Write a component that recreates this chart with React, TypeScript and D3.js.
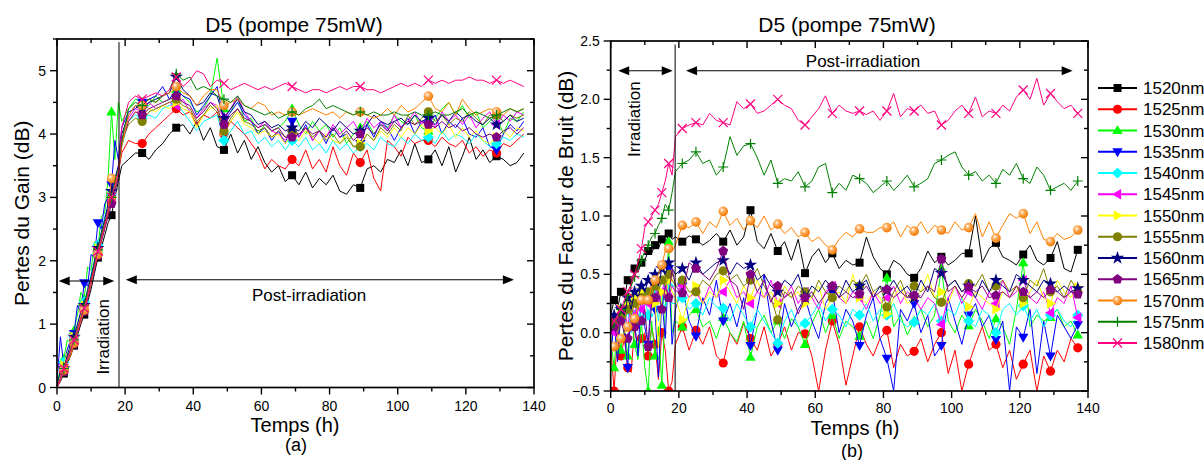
import React from "react";
import * as d3 from "d3";

// ---------- DATA ----------
const TIME = [0,1,2,3,4,5,6,7,8,9,10,11,12,13,14,15,16,17,18,
  19,21,23,25,27,29,31,33,35,37,39,41,43,45,47,49,51,53,55,57,59,61,63,65,67,69,71,73,75,77,
  79,81,83,85,87,89,91,93,95,97,99,101,103,105,107,109,111,113,115,117,119,121,123,125,127,129,131,133,135,137];

const LABELS = ["1520nm","1525nm","1530nm","1535nm","1540nm","1545nm","1550nm","1555nm","1560nm","1565nm","1570nm","1575nm","1580nm"];
const COLORS = ["#000000","#ff0000","#00ff00","#0000ff","#00ffff","#ff00ff","#ffff00","#808000","#000080","#800080","#ff8000","#008000","#ff0080"];
const SHAPES = ["square","circle","triUp","triDown","diamond","triLeft","triRight","circle","star","pentagon","sphere","plus","cross"];

const MARK_T_A = [2,5,8,12,16,25,35,49,69,89,109,129];
const MARK_T_B = [1,3,5,7,9,11,13,15,17,21,25,33,41,49,57,65,73,81,89,97,105,113,121,129,137];

const X_TICKS = [0,20,40,60,80,100,120,140];
const X_MINOR = [10,30,50,70,90,110,130];
const YA_TICKS = [0,1,2,3,4,5];
const YA_MINOR = [0.5,1.5,2.5,3.5,4.5,5.5];
const YB_TICKS = [-0.5,0,0.5,1,1.5,2,2.5];
const YB_MINOR = [-0.25,0.25,0.75,1.25,1.75,2.25];

// Gain losses (dB), panel (a)
const GAIN_1520 = [0,0.1,0.22,0.38,0.5,0.66,0.82,1.0,1.15,1.35,1.55,1.8,2.05,2.2,2.4,2.6,2.72,3.0,3.25,
  3.5,3.6,3.7,3.7,3.6,3.75,3.85,4.0,4.1,4.15, 4.0,4.2,3.9,4.1,3.8,3.75,4.0,3.7,3.9,3.6, 3.8,3.55,3.4,3.5,3.25,3.35,3.2,3.4,3.15,3.3,
  3.2,3.35,3.1,3.05,3.2,3.15,3.45,3.5,3.4,3.6, 3.55,3.75,3.5,3.85,3.55,3.6,3.75,3.5,3.8,3.4, 3.65,3.95,3.6,3.75,3.55,3.65,3.6,3.5,3.55,3.7];
const GAIN_1525 = [0.02,0.15,0.3,0.48,0.6,0.78,0.95,1.12,1.3,1.5,1.75,1.95,2.2,2.4,2.6,2.85,3.0,3.2,3.4,
  3.7,3.9,3.85,3.85,4.0,4.1,4.2,4.3,4.4,4.3, 4.35,4.15,4.3,4.25,4.35,4.0,4.2,4.1,4.0,3.85, 3.7,3.45,3.6,3.5,3.45,3.6,3.5,3.75,3.45,3.6,
  3.4,3.8,3.5,3.35,3.7,3.55,3.75,3.3,3.1,3.9, 3.8,3.65,3.95,3.85,3.9,3.9,3.8,3.95,3.85,3.8, 3.9,3.7,3.8,3.65,3.75,3.7,3.85,3.8,3.9,4.0];
const GAIN_1530 = [0.05,0.3,0.45,0.75,0.7,0.9,1.15,1.5,1.4,1.9,1.85,2.3,2.2,2.7,2.75,3.3,4.35,3.6,4.5,
  4.2,4.4,4.55,4.5,4.45,4.6,4.5,4.55,4.7,4.6, 4.5,4.35,4.4,4.6,5.2,4.4,4.35,4.6,4.2,4.25, 4.0,4.15,4.05,4.1,4.2,4.4,4.15,4.0,4.2,4.05,
  4.15,3.95,4.1,3.85,4.0,4.1,4.2,4.0,4.15,4.1, 4.3,4.2,4.15,4.3,4.1,4.05,4.25,4.4,4.5,4.3, 4.45,4.25,4.35,4.1,4.2,4.3,4.0,4.25,4.2,4.35];
const GAIN_1535 = [0.1,0.8,0.35,0.6,0.75,0.85,1.3,1.2,1.65,1.6,2.1,2.05,2.6,2.5,2.9,3.0,3.2,3.9,3.6,
  4.1,4.35,4.4,4.5,4.55,4.6,4.75,4.55,4.7,4.6, 4.55,4.3,4.45,4.6,4.75,4.2,4.35,4.5,4.3,4.2, 4.0,4.1,3.9,4.05,3.85,4.2,3.95,4.15,3.9,4.05,
  3.85,4.1,3.95,4.0,3.8,3.85,4.15,3.95,4.2,4.1, 3.9,4.1,4.25,4.0,4.2,4.15,4.3,4.0,4.2,4.1, 4.25,4.0,3.95,4.1,3.8,3.75,4.0,4.15,4.05,4.2];
const GAIN_1540 = [0.03,0.2,0.4,0.5,0.65,0.8,1.0,1.15,1.35,1.5,1.8,2.0,2.25,2.45,2.7,2.85,3.05,3.3,3.45,
  3.8,4.2,4.3,4.25,4.3,4.25,4.4,4.45,4.5,4.35, 4.2,4.05,4.2,4.25,4.3,3.9,4.05,4.2,4.0,4.05, 3.85,3.95,3.8,3.9,3.75,3.9,3.8,3.95,3.75,3.85,
  3.7,3.9,3.75,3.85,3.7,3.8,3.85,3.75,3.95,3.85, 3.8,3.95,3.85,4.0,3.9,3.95,3.85,4.05,3.9,4.0, 3.95,3.85,4.0,3.9,3.8,3.85,3.95,3.9,4.0,3.95];
const GAIN_1545 = [0,0.15,0.3,0.45,0.6,0.75,0.92,1.1,1.28,1.48,1.7,1.92,2.15,2.38,2.58,2.8,3.0,3.2,3.4,
  3.9,4.25,4.4,4.35,4.5,4.4,4.45,4.5,4.45,4.55, 4.35,4.25,4.4,4.5,4.45,4.25,4.4,4.6,4.35,4.2, 4.1,4.2,4.05,4.0,3.9,4.05,3.95,4.1,3.9,4.05,
  3.95,4.15,4.0,4.1,4.2,4.0,4.25,4.1,4.2,4.05, 4.3,4.1,4.2,4.35,4.15,4.3,4.1,4.35,4.2,4.3, 4.15,4.3,4.1,4.25,4.35,4.15,4.3,4.2,4.35,4.3];
const GAIN_1550 = [0.02,0.18,0.35,0.55,0.62,0.8,0.95,1.15,1.3,1.52,1.72,1.95,2.2,2.4,2.6,2.8,3.0,3.2,3.45,
  3.85,4.2,4.35,4.3,4.4,4.35,4.45,4.4,4.5,4.4, 4.35,4.1,4.3,4.4,4.45,4.05,4.2,4.35,4.15,4.1, 4.0,4.05,3.95,4.0,3.85,4.0,3.9,4.05,3.95,3.85,
  4.0,3.9,3.85,4.0,3.8,3.85,4.0,3.9,4.05,3.95, 4.1,3.95,4.1,4.0,4.15,4.05,4.1,4.0,4.15,3.95, 4.1,3.95,4.05,3.9,3.85,3.95,4.05,3.95,4.1,4.05];
const GAIN_1555 = [0,0.12,0.25,0.4,0.55,0.7,0.88,1.05,1.22,1.42,1.65,1.88,2.1,2.3,2.52,2.72,2.92,3.12,3.35,
  3.9,4.15,4.25,4.2,4.35,4.4,4.45,4.5,4.55,4.45, 4.4,4.2,4.3,4.45,4.35,4.05,4.25,4.4,4.2,4.15, 4.05,4.1,3.95,4.05,3.95,4.05,4.0,4.1,3.95,4.05,
  3.9,4.0,3.85,3.95,3.8,3.8,4.0,3.9,4.1,4.0, 4.15,4.05,4.3,4.15,4.25,4.35,4.2,4.3,4.15,4.25, 4.2,4.35,4.25,4.15,4.3,4.3,4.2,4.3,4.25,4.3];
const GAIN_1560 = [0.05,0.25,0.3,0.5,0.7,0.8,1.0,1.2,1.3,1.55,1.75,2.0,2.2,2.45,2.65,2.9,3.1,3.3,3.5,
  4.0,4.3,4.45,4.4,4.5,4.55,4.6,4.65,4.9,4.7, 4.6,4.45,4.5,4.65,4.6,4.25,4.4,4.55,4.35,4.3, 4.15,4.2,4.1,4.15,4.05,4.1,4.05,4.2,4.1,4.25,
  4.15,4.05,4.2,4.1,4.0,4.05,4.15,4.3,4.2,4.15, 4.2,4.25,4.15,4.3,4.2,4.25,4.15,4.3,4.2,4.35, 4.25,4.3,4.2,4.15,4.25,4.15,4.2,4.3,4.2,4.25];
const GAIN_1565 = [0,0.1,0.25,0.4,0.52,0.68,0.85,1.02,1.2,1.4,1.62,1.85,2.08,2.3,2.5,2.7,2.9,3.1,3.3,
  3.85,4.2,4.35,4.3,4.4,4.45,4.5,4.55,4.6,4.5, 4.45,4.25,4.35,4.5,4.4,4.15,4.3,4.4,4.25,4.2, 4.1,4.15,4.05,4.1,3.95,3.95,4.0,4.1,4.0,4.05,
  3.95,4.1,3.95,4.05,3.9,4.0,4.1,4.0,4.15,4.05, 4.2,4.1,4.2,4.15,4.2,4.15,4.1,4.2,4.1,4.15, 4.05,4.1,4.0,3.95,4.0,3.95,4.05,4.1,4.0,4.1];
const GAIN_1570 = [0,0.12,0.28,0.42,0.5,0.7,0.88,1.05,1.22,1.45,1.65,1.9,2.1,2.35,2.55,2.8,3.3,3.2,3.4,
  3.8,4.3,4.45,4.45,4.55,4.5,4.6,4.65,4.75,4.65, 4.6,4.45,4.6,4.7,4.7,4.45,4.5,4.55,4.45,4.4, 4.5,4.45,4.3,4.35,4.3,4.35,4.3,4.35,4.4,4.35,
  4.3,4.35,4.25,4.35,4.3,4.35,4.3,4.25,4.3,4.4, 4.3,4.45,4.35,4.4,4.5,4.6,4.4,4.35,4.5,4.3, 4.55,4.4,4.3,4.35,4.4,4.35,4.3,4.4,4.35,4.4];
const GAIN_1575 = [0.02,0.15,0.3,0.45,0.6,0.75,0.92,1.1,1.3,1.5,1.72,1.95,2.18,2.4,2.6,2.8,3.0,3.25,3.45,
  3.9,4.4,4.5,4.45,4.55,4.5,4.6,4.7,4.95,4.85, 4.9,4.7,4.75,4.7,4.6,4.55,4.5,4.6,4.45,4.4, 4.35,4.3,4.35,4.25,4.3,4.35,4.3,4.4,4.45,4.55,
  4.4,4.45,4.4,4.35,4.3,4.35,4.3,4.35,4.3,4.3, 4.35,4.3,4.3,4.35,4.3,4.3,4.35,4.3,4.3,4.35, 4.4,4.3,4.35,4.3,4.25,4.3,4.35,4.4,4.35,4.4];
const GAIN_1580 = [0,0.14,0.3,0.45,0.58,0.75,0.9,1.1,1.25,1.45,1.7,1.9,2.15,2.35,2.55,2.8,3.0,3.2,3.4,
  4.1,4.5,4.6,4.55,4.6,4.65,4.6,4.7,4.9,4.75, 4.85,5.0,4.95,4.75,4.85,4.8,4.7,4.75,4.8,4.75, 4.7,4.75,4.7,4.75,4.8,4.75,4.7,4.65,4.7,4.7,
  4.65,4.7,4.75,4.7,4.75,4.75,4.7,4.7,4.65,4.7, 4.75,4.8,4.75,4.8,4.75,4.85,4.8,4.85,4.8,4.85, 4.85,4.9,4.85,4.85,4.8,4.85,4.8,4.85,4.8,4.75];

// Noise-figure losses (dB), panel (b)
const NF_1520 = [0.15,0.28,0.2,0.35,0.3,0.45,0.4,0.55,0.52,0.6,0.62,0.7,0.68,0.75,0.72,0.8,0.75,0.85,0.8,
  0.82,0.78,0.83,0.8,0.75,0.79,0.85,0.78,0.88,0.75, 0.82,1.05,0.78,0.72,0.85,0.7,0.78,0.62,0.8,0.51, 0.65,0.72,0.6,0.68,0.55,0.62,0.58,0.6,0.82,0.65,
  0.55,0.5,0.62,0.58,0.5,0.47,0.55,0.7,0.6,0.65, 0.58,0.62,0.68,0.68,1.0,0.6,0.72,0.77,0.65,0.62, 0.58,0.67,0.75,0.62,0.58,0.64,0.78,0.55,0.52,0.71];
const NF_1525 = [-0.1,-0.5,0.0,-0.2,-0.05,-0.3,-0.34,0.05,-0.15,-0.05,0.0,-0.2,0.05,-0.1,-0.4,0.0,-0.15,-0.5,-0.42,
  -0.1,0.05,-0.15,0.02,-0.1,0.05,-0.2,-0.26,0.0,-0.1, 0.08,-0.05,-0.15,0.05,-0.2,-0.1,0.05,-0.15,0.0,-0.01, -0.2,-0.5,-0.15,0.1,-0.1,-0.45,-0.2,0.05,-0.1,-0.2,
  -0.05,0.02,-0.3,-0.1,-0.2,-0.16,-0.05,-0.25,-0.1,0.0, -0.35,-0.15,-0.5,-0.27,-0.1,0.05,-0.15,-0.1,-0.3,-0.15, -0.4,-0.27,-0.15,-0.5,-0.2,-0.33,-0.15,-0.25,-0.05,-0.13];
const NF_1530 = [-0.05,-0.3,0.1,-0.15,0.05,-0.2,0.15,-0.1,-0.23,0.1,-0.3,-0.5,0.1,-0.2,0.05,-0.45,0.2,0.78,0.0,
  0.1,0.05,0.15,0.2,0.05,0.1,-0.05,0.13,0.0,-0.08, 0.1,-0.21,0.05,0.15,0.0,0.1,-0.05,0.12,0.05,-0.1, 0.08,0.2,0.0,0.15,-0.05,0.1,0.05,-0.03,0.1,-0.05,
  0.15,0.47,0.05,0.15,-0.02,0.1,0.2,0.05,0.15,0.55, 0.1,0.0,0.15,0.06,0.2,0.1,-0.05,0.12,0.05,-0.1, 0.2,0.6,0.05,0.15,0.1,0.13,0.2,0.05,0.1,-0.02];
const NF_1535 = [-0.2,0.1,-0.25,0.2,0.0,-0.3,0.25,0.1,-0.2,0.35,0.05,-0.1,0.4,0.2,-0.38,0.3,-0.05,0.55,-0.1,
  0.2,0.4,0.1,-0.03,0.3,0.15,0.45,0.1,0.25,0.05, 0.3,-0.11,0.2,0.5,0.1,-0.15,0.25,0.05,0.2,0.3, 0.1,-0.05,0.25,0.35,0.0,0.2,0.1,-0.11,0.15,0.3,
  -0.05,-0.22,-0.5,0.2,0.1,0.25,0.0,0.15,-0.2,-0.11, 0.3,0.1,-0.1,0.15,0.25,0.05,0.15,-0.06,0.1,-0.5, 0.05,-0.04,0.2,-0.35,0.1,-0.2,0.15,0.05,-0.05,0.07];
const NF_1540 = [0.0,0.1,-0.05,0.15,0.05,0.2,0.0,0.15,0.25,0.1,0.3,0.15,0.2,0.35,0.1,0.3,0.2,0.4,0.25,
  0.25,0.3,0.2,0.25,0.15,0.3,0.22,0.21,0.1,0.25, 0.15,0.05,0.2,0.1,0.0,-0.09,0.1,0.2,0.05,0.08, 0.15,0.25,0.1,0.2,0.15,0.05,0.2,0.15,0.25,0.1,
  0.2,0.15,0.25,0.1,0.05,0.09,0.2,0.15,0.25,0.1, 0.2,0.15,0.3,0.1,0.05,0.2,0.15,0.0,0.2,0.25, 0.15,0.23,0.1,0.2,0.05,0.15,0.2,0.1,0.05,0.15];
const NF_1545 = [0.05,0.0,0.15,0.1,0.2,0.05,0.25,0.15,0.3,0.2,0.35,0.25,0.3,0.4,0.25,0.35,0.45,0.3,0.4,
  0.35,0.4,0.3,0.35,0.25,0.4,0.3,0.35,0.45,0.3, 0.35,0.25,0.35,0.3,0.45,0.25,0.3,0.4,0.25,0.35, 0.3,0.2,0.35,0.4,0.3,0.25,0.35,0.3,0.2,0.35,
  0.25,0.3,0.4,0.25,0.35,0.3,0.2,0.3,0.25,0.07, 0.3,0.4,0.25,0.35,0.3,0.2,0.35,0.25,0.45,0.3, 0.35,0.45,0.3,0.25,0.35,0.17,0.3,0.25,0.4,0.13];
const NF_1550 = [0.0,0.1,0.05,0.2,0.1,0.25,0.15,0.3,0.2,0.35,0.25,0.3,0.4,0.25,-0.12,0.35,0.3,0.45,0.35,
  0.3,0.11,0.3,0.4,0.25,0.35,0.3,0.45,0.35,0.25, 0.4,0.3,0.45,0.3,0.35,0.25,0.4,0.3,0.35,0.25, 0.3,0.4,0.2,0.3,0.35,0.25,0.5,0.3,0.25,0.35,
  0.3,0.16,0.3,0.4,0.25,0.3,0.35,0.5,0.3,0.35, 0.25,0.4,0.3,0.22,0.35,0.3,0.25,0.2,0.35,0.3, 0.4,0.25,0.35,0.45,0.3,0.25,0.45,0.35,0.3,0.39];
const NF_1555 = [0.05,0.1,0.0,0.15,0.1,0.2,0.15,0.25,0.2,0.3,0.25,0.35,0.3,0.4,0.35,0.45,0.4,0.5,0.45,
  0.4,0.45,0.35,0.35,0.45,0.4,0.5,0.53,0.45,0.5, 0.4,0.45,0.55,0.4,0.3,0.11,0.35,0.3,0.4,0.35, 0.3,0.45,0.35,0.3,0.4,0.35,0.45,0.4,0.5,0.35,
  0.4,0.22,0.35,0.45,0.3,0.4,0.35,0.4,0.3,0.26, 0.4,0.45,0.35,0.42,0.4,0.5,0.35,0.4,0.45,0.35, 0.4,0.3,0.45,0.4,0.55,0.35,0.4,0.3,0.45,0.35];
const NF_1560 = [0.0,0.15,0.1,0.2,0.15,0.3,0.2,0.35,0.3,0.4,0.35,0.45,0.4,0.5,0.4,0.55,0.5,0.6,0.55,
  0.5,0.55,0.45,0.6,0.5,0.55,0.6,0.62,0.5,0.6, 0.55,0.58,0.45,0.5,0.4,0.35,0.45,0.4,0.5,0.3, 0.4,0.35,0.45,0.38,0.3,0.45,0.35,0.4,0.45,0.3,
  0.4,0.36,0.45,0.35,0.4,0.3,0.45,0.35,0.55,0.51, 0.4,0.45,0.35,0.4,0.3,0.45,0.35,0.45,0.4,0.35, 0.5,0.45,0.4,0.35,0.45,0.42,0.35,0.4,0.35,0.38];
const NF_1565 = [0.0,0.05,-0.05,0.1,0.0,-0.05,0.1,0.05,0.15,0.1,0.2,-0.12,0.25,0.3,0.35,0.2,0.4,0.3,0.55,
  0.4,0.34,0.6,0.55,0.5,0.45,0.55,0.7,0.45,0.4, 0.2,0.5,0.35,0.45,0.26,0.4,0.3,0.35,0.16,0.3, 0.35,0.25,0.33,0.4,0.3,0.35,0.3,0.33,0.4,0.3,
  0.35,0.37,0.3,0.35,0.3,0.32,0.3,0.4,0.35,0.63, 0.35,0.4,0.3,0.39,0.35,0.4,0.3,0.32,0.35,0.3, 0.4,0.35,0.3,0.35,0.3,0.37,0.35,0.3,0.35,0.33];
const NF_1570 = [-0.15,-0.12,-0.15,-0.05,0.0,0.05,0.1,0.12,0.22,0.28,0.3,0.28,0.4,0.45,0.5,0.58,0.7,0.72,0.7,
  0.75,0.92,0.9,0.95,0.85,0.95,0.9,1.04,0.92,0.98, 0.88,0.96,0.9,1.0,0.88,0.93,0.85,0.9,0.82,0.86, 0.78,0.82,0.75,0.71,0.8,0.86,0.82,0.89,0.86,0.86,
  0.9,0.9,0.95,0.82,0.92,0.87,0.95,0.85,0.92,0.88, 0.85,0.95,0.88,0.9,1.02,0.82,0.95,0.81,0.92,1.02, 0.98,1.02,0.85,0.95,0.8,0.78,0.85,0.8,0.82,0.88];
const NF_1575 = [0.02,0.08,0.12,0.2,0.25,0.32,0.4,0.48,0.55,0.62,0.7,0.75,0.82,0.85,0.92,0.98,1.1,1.05,1.2,
  1.38,1.45,1.48,1.55,1.45,1.48,1.35,1.42,1.68,1.52, 1.6,1.62,1.5,1.35,1.48,1.28,1.32,1.3,1.38,1.25, 1.3,1.42,1.45,1.2,1.28,1.22,1.35,1.32,1.28,1.2,
  1.25,1.3,1.22,1.28,1.35,1.25,1.28,1.32,1.45,1.48, 1.52,1.55,1.42,1.35,1.38,1.3,1.35,1.28,1.4,1.35, 1.45,1.32,1.28,1.42,1.35,1.22,1.25,1.28,1.22,1.3];
const NF_1580 = [0.05,0.1,0.15,0.2,0.28,0.35,0.42,0.5,0.6,0.72,0.9,0.95,1.0,1.05,1.1,1.2,1.3,1.45,1.35,
  1.68,1.75,1.78,1.8,1.78,1.88,1.82,1.8,1.78,1.98, 1.92,1.96,1.88,1.9,1.95,2.0,1.95,1.92,1.82,1.78, 1.85,1.92,2.03,1.88,1.95,1.9,1.88,1.9,1.87,1.9,
  1.82,1.9,2.05,1.85,1.92,1.9,1.95,1.88,1.9,1.78, 1.82,1.9,1.95,1.88,2.02,1.85,1.9,1.88,1.95,1.9, 2.02,2.08,2.0,2.18,1.95,2.05,1.98,1.92,1.95,1.88];

const GAIN_SERIES = [GAIN_1520,GAIN_1525,GAIN_1530,GAIN_1535,GAIN_1540,GAIN_1545,GAIN_1550,GAIN_1555,GAIN_1560,GAIN_1565,GAIN_1570,GAIN_1575,GAIN_1580];
const NF_SERIES = [NF_1520,NF_1525,NF_1530,NF_1535,NF_1540,NF_1545,NF_1550,NF_1555,NF_1560,NF_1565,NF_1570,NF_1575,NF_1580];

// ---------- RENDERING ----------
const FONT = "Arial, 'Liberation Sans', Helvetica, sans-serif";

function poly(pts: number[][]) {
  return "M" + pts.map(p => p[0].toFixed(2) + "," + p[1].toFixed(2)).join("L") + "Z";
}

function Marker({ shape, color, cx, cy }: { shape: string; color: string; cx: number; cy: number }) {
  const t = `translate(${cx},${cy})`;
  switch (shape) {
    case "square":
      return <rect x={cx - 4} y={cy - 4} width={8} height={8} fill={color} />;
    case "circle":
      return <circle cx={cx} cy={cy} r={4.6} fill={color} />;
    case "sphere":
      return <circle cx={cx} cy={cy} r={4.8} fill="url(#sphereGrad)" />;
    case "triUp":
      return <path transform={t} d={poly([[0, -5.5], [5.2, 3.6], [-5.2, 3.6]])} fill={color} />;
    case "triDown":
      return <path transform={t} d={poly([[0, 5.5], [5.2, -3.6], [-5.2, -3.6]])} fill={color} />;
    case "triLeft":
      return <path transform={t} d={poly([[-5.5, 0], [3.6, -5.2], [3.6, 5.2]])} fill={color} />;
    case "triRight":
      return <path transform={t} d={poly([[5.5, 0], [-3.6, -5.2], [-3.6, 5.2]])} fill={color} />;
    case "diamond":
      return <path transform={t} d={poly([[0, -5.6], [5.6, 0], [0, 5.6], [-5.6, 0]])} fill={color} />;
    case "pentagon": {
      const pts = d3.range(5).map(k => {
        const a = -Math.PI / 2 + (k * 2 * Math.PI) / 5;
        return [5.2 * Math.cos(a), 5.2 * Math.sin(a)];
      });
      return <path transform={t} d={poly(pts)} fill={color} />;
    }
    case "star":
      return <path transform={t} d={d3.symbol(d3.symbolStar, 55)() || ""} fill={color} />;
    case "plus":
      return <path transform={t} d="M-5,0H5M0,-5V5" stroke={color} strokeWidth={1.2} fill="none" />;
    case "cross":
      return <path transform={t} d="M-4.5,-4.5L4.5,4.5M-4.5,4.5L4.5,-4.5" stroke={color} strokeWidth={1.2} fill="none" />;
    default:
      return null;
  }
}

type Scale = d3.ScaleLinear<number, number>;

function Frame({ x, y, yTicks, yMinor, yFmt, labelOff }: { x: Scale; y: Scale; yTicks: number[]; yMinor: number[]; yFmt: (v: number) => string; labelOff: number }) {
  const [x0, x1] = x.range();
  const [yb, yt] = y.range();
  const els: React.ReactNode[] = [];
  X_TICKS.forEach((v, i) => {
    const px = x(v);
    els.push(<line key={"bx" + i} x1={px} x2={px} y1={yb} y2={yb + 7} />);
    els.push(<line key={"tx" + i} x1={px} x2={px} y1={yt} y2={yt + 7} />);
    els.push(<text key={"lx" + i} x={px} y={yb + labelOff} textAnchor="middle" fontSize={14} stroke="none" fill="#000">{v}</text>);
  });
  X_MINOR.forEach((v, i) => {
    const px = x(v);
    els.push(<line key={"bmx" + i} x1={px} x2={px} y1={yb} y2={yb + 4} />);
    els.push(<line key={"tmx" + i} x1={px} x2={px} y1={yt} y2={yt + 4} />);
  });
  yTicks.forEach((v, i) => {
    const py = y(v);
    els.push(<line key={"ly" + i} x1={x0 - 7} x2={x0} y1={py} y2={py} />);
    els.push(<line key={"ry" + i} x1={x1 - 7} x2={x1} y1={py} y2={py} />);
    els.push(<text key={"lly" + i} x={x0 - 11} y={py} dy="0.36em" textAnchor="end" fontSize={14} stroke="none" fill="#000">{yFmt(v)}</text>);
  });
  yMinor.forEach((v, i) => {
    const py = y(v);
    els.push(<line key={"lmy" + i} x1={x0 - 4} x2={x0} y1={py} y2={py} />);
    els.push(<line key={"rmy" + i} x1={x1 - 4} x2={x1} y1={py} y2={py} />);
  });
  return (
    <g stroke="#000" strokeWidth={1.4} fontFamily={FONT}>
      {els}
      <rect x={x0} y={yt} width={x1 - x0} height={yb - yt} fill="none" strokeWidth={1.7} />
    </g>
  );
}

function Arrow({ xa, xb, y }: { xa: number; xb: number; y: number }) {
  const L = 11, h = 4.5;
  return (
    <g>
      <line x1={xa + L - 1} x2={xb - L + 1} y1={y} y2={y} stroke="#000" strokeWidth={1.1} />
      <path d={poly([[xa, y], [xa + L, y - h], [xa + L, y + h]])} fill="#000" />
      <path d={poly([[xb, y], [xb - L, y - h], [xb - L, y + h]])} fill="#000" />
    </g>
  );
}

function SeriesLayer({ id, x, y, data, marks }: { id: string; x: Scale; y: Scale; data: number[][]; marks: number[] }) {
  const line = d3.line<number>().x((_, i) => x(TIME[i])).y(d => y(d));
  const [x0, x1] = x.range();
  const [yb, yt] = y.range();
  return (
    <g>
      <clipPath id={id}>
        <rect x={x0} y={yt} width={x1 - x0} height={yb - yt} />
      </clipPath>
      <g clipPath={`url(#${id})`}>
        {data.map((s, k) => (
          <g key={k}>
            <path d={line(s) || ""} fill="none" stroke={COLORS[k]} strokeWidth={1} strokeLinejoin="round" />
            {marks.map((mt, j) => {
              const idx = TIME.indexOf(mt);
              return <Marker key={j} shape={SHAPES[k]} color={COLORS[k]} cx={x(TIME[idx])} cy={y(s[idx])} />;
            })}
          </g>
        ))}
      </g>
    </g>
  );
}

export default function App() {
  const xA = d3.scaleLinear().domain([0, 140]).range([57, 534]);
  const yA = d3.scaleLinear().domain([0, 5.5]).range([387.5, 39]);
  const xB = d3.scaleLinear().domain([0, 140]).range([610.7, 1088]);
  const yB = d3.scaleLinear().domain([-0.5, 2.5]).range([391, 41]);
  const fmtA = (v: number) => String(v);
  const fmtB = d3.format(".1f");

  return (
    <svg width={1204} height={460} style={{ position: "absolute", left: 0, top: 0, background: "#fff" }} fontFamily={FONT}>
      <defs>
        <radialGradient id="sphereGrad" cx="38%" cy="35%" r="65%">
          <stop offset="0%" stopColor="#ffffff" />
          <stop offset="35%" stopColor="#ffb060" />
          <stop offset="100%" stopColor="#f07800" />
        </radialGradient>
      </defs>
      <rect x={0} y={0} width={1204} height={460} fill="#fff" />

      {/* Panel (a) */}
      <SeriesLayer id="clipA" x={xA} y={yA} data={GAIN_SERIES} marks={MARK_T_A} />
      <line x1={xA(18.2)} x2={xA(18.2)} y1={yA(5.45)} y2={yA(0)} stroke="#000" strokeWidth={1} />
      <Frame x={xA} y={yA} yTicks={YA_TICKS} yMinor={YA_MINOR} yFmt={fmtA} labelOff={23} />
      <Arrow xa={xA(0.5)} xb={xA(16.8)} y={yA(1.68)} />
      <Arrow xa={xA(20.2)} xb={xA(134.1)} y={yA(1.7)} />
      <text x={xA(74)} y={yA(1.36)} textAnchor="middle" fontSize={17}>Post-irradiation</text>
      <text transform={`translate(${xA(13.4)},${yA(0.8)}) rotate(-90)`} textAnchor="middle" dy="0.35em" fontSize={17}>Irradiation</text>
      <text x={294} y={32} textAnchor="middle" fontSize={21}>D5 (pompe 75mW)</text>
      <text x={295} y={432} textAnchor="middle" fontSize={20}>Temps (h)</text>
      <text x={296} y={451} textAnchor="middle" fontSize={18}>(a)</text>
      <text transform={`translate(22,${(yA(0) + yA(5.5)) / 2}) rotate(-90)`} textAnchor="middle" dy="0.35em" fontSize={21}>Pertes du Gain (dB)</text>

      {/* Panel (b) */}
      <SeriesLayer id="clipB" x={xB} y={yB} data={NF_SERIES} marks={MARK_T_B} />
      <line x1={xB(18.9)} x2={xB(18.9)} y1={yB(2.47)} y2={yB(-0.5)} stroke="#000" strokeWidth={1} />
      <Frame x={xB} y={yB} yTicks={YB_TICKS} yMinor={YB_MINOR} yFmt={fmtB} labelOff={21.5} />
      <Arrow xa={xB(2.2)} xb={xB(18.2)} y={yB(2.245)} />
      <Arrow xa={xB(22.1)} xb={xB(135.5)} y={yB(2.245)} />
      <text x={xB(74)} y={yB(2.28)} textAnchor="middle" fontSize={17}>Post-irradiation</text>
      <text transform={`translate(${xB(6.9)},${yB(1.83)}) rotate(-90)`} textAnchor="middle" dy="0.35em" fontSize={17}>Irradiation</text>
      <text x={847} y={32} textAnchor="middle" fontSize={21}>D5 (pompe 75mW)</text>
      <text x={855} y={435} textAnchor="middle" fontSize={20}>Temps (h)</text>
      <text x={852} y={457} textAnchor="middle" fontSize={18}>(b)</text>
      <text transform={`translate(566,${(yB(-0.5) + yB(2.5)) / 2}) rotate(-90)`} textAnchor="middle" dy="0.35em" fontSize={21}>Pertes du Facteur de Bruit (dB)</text>

      {/* Legend */}
      <g>
        {LABELS.map((lab, k) => {
          const ly = 88 + k * 21.25;
          return (
            <g key={k}>
              <line x1={1098} x2={1137} y1={ly} y2={ly} stroke={COLORS[k]} strokeWidth={2} />
              <Marker shape={SHAPES[k]} color={COLORS[k]} cx={1117.5} cy={ly} />
              <text x={1143} y={ly} dy="0.36em" fontSize={17}>{lab}</text>
            </g>
          );
        })}
      </g>
    </svg>
  );
}
